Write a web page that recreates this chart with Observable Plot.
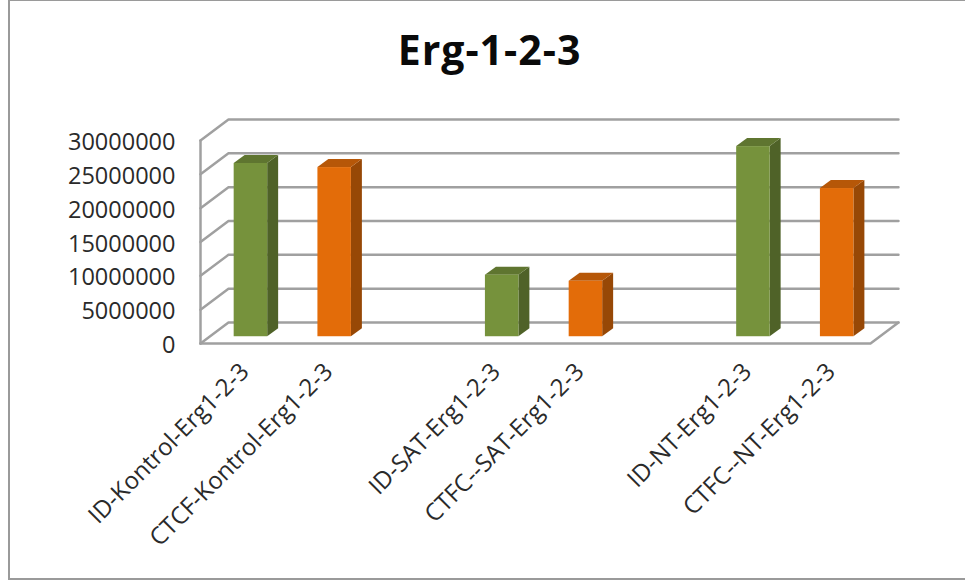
<!DOCTYPE html>
<html>
<head>
<meta charset="utf-8">
<script src="https://cdn.jsdelivr.net/npm/d3@7"></script>
<script src="https://cdn.jsdelivr.net/npm/@observablehq/plot@0.6"></script>
<style>
  html, body { margin: 0; background: #fff; }
  #frame { position: relative; width: 965px; height: 581px; overflow: hidden; }
  #box { position: absolute; left: 8px; top: -1px; width: 961px; height: 577px; border: 2px solid #9a9a9a; box-sizing: content-box; }
  #title { position: absolute; left: 0; width: 979px; top: 21px; text-align: center;
           font: bold 41px "Open Sans", sans-serif; letter-spacing: 1px; color: #0a0a0a; }
  #chart { position: absolute; left: 0; top: 0; }
  #chart svg { display: block; }
</style>
</head>
<body>
<div id="frame">
  <div id="box"></div>
  <div id="title">Erg-1-2-3</div>
  <div id="chart"></div>
</div>
<script>
// Chart values
const labels = ["ID-Kontrol-Erg1-2-3", "CTCF-Kontrol-Erg1-2-3", "ID-SAT-Erg1-2-3",
                "CTFC--SAT-Erg1-2-3", "ID-NT-Erg1-2-3", "CTFC--NT-Erg1-2-3"];
const values = [25600000, 25000000, 9100000, 8200000, 28100000, 21900000];
const slots = [0, 1, 3, 4, 6, 7];
const isControl = [true, false, true, false, true, false];
const ticks = [0, 5000000, 10000000, 15000000, 20000000, 25000000, 30000000];

// Oblique projection: depth in axis units (x in category slots, y in value)
const slotCount = 8;
const wallDx = 0.334, wallDy = 3100000;
const barWidth = 0.4;
const barDx = 0.131, barDy = 1180000;
const barShiftX = 0.102, barShiftY = 1000000;

const bars = values.map((v, i) => {
  const x0 = slots[i] + 0.5 - barWidth / 2 + barShiftX;
  return {label: labels[i], v, x0, x1: x0 + barWidth, base: barShiftY, top: barShiftY + v, control: isControl[i]};
});
const fill = {front: d => d.control ? "#76923c" : "#e36c09",
              side: d => d.control ? "#4f6228" : "#974806",
              top: d => d.control ? "#5f7530" : "#b65708"};

const sideFaces = bars.flatMap(d => [0, 1].map(t => ({...d, x: d.x1 + t * barDx,
  y1: d.base + t * barDy, y2: d.top + t * barDy})));
const topFaces = bars.flatMap(d => [0, 1].map(t => ({...d, y: d.top + t * barDy,
  x1: d.x0 + t * barDx, x2: d.x1 + t * barDx})));

// Gridlines run up the side wall, then along the back wall
const gridlines = ticks.flatMap(t => [
  {t, x: 0, y: t},
  {t, x: wallDx, y: t + wallDy},
  {t, x: slotCount + wallDx, y: t + wallDy}
]);
const floorEdge = [
  {x: 0, y: 0}, {x: slotCount, y: 0}, {x: slotCount + wallDx, y: wallDy}
];
const wallEdge = [{x: 0, y: 0}, {x: 0, y: 30000000}];

const textFont = "'Open Sans', sans-serif";
const gridGrey = "#a0a0a0";
const plot = Plot.plot({
  width: 965,
  height: 581,
  marginLeft: 200,
  marginRight: 95,
  marginTop: 140,
  marginBottom: 238,
  style: {background: "transparent"},
  x: {type: "linear", domain: [0, slotCount], axis: null},
  y: {domain: [0, 30000000], axis: null},
  marks: [
    Plot.line(gridlines, {x: "x", y: "y", z: "t", stroke: gridGrey, strokeWidth: 2.5, curve: "linear"}),
    Plot.line(wallEdge, {x: "x", y: "y", stroke: gridGrey, strokeWidth: 2.5}),
    Plot.line(floorEdge, {x: "x", y: "y", stroke: gridGrey, strokeWidth: 2.5}),
    Plot.areaY(sideFaces, {x: "x", y1: "y1", y2: "y2", z: "label", fill: fill.side, curve: "linear"}),
    Plot.areaX(topFaces, {y: "y", x1: "x1", x2: "x2", z: "label", fill: fill.top, curve: "linear"}),
    Plot.rect(bars, {x1: "x0", x2: "x1", y1: "base", y2: "top", fill: fill.front, inset: 0}),
    Plot.text(ticks, {
      x: 0, y: d => d, text: d => String(d), textAnchor: "end", dx: -25, dy: 2,
      fontSize: 23.5, fontFamily: textFont, fill: "#2a2a2a"
    }),
    Plot.text(bars, {
      x: d => d.x0 + barWidth / 2, y: 0, text: "label", rotate: -45, textAnchor: "end",
      dx: -6, dy: 24, fontSize: 24, fontFamily: textFont, fill: "#2a2a2a"
    })
  ]
});
document.getElementById("chart").append(plot);
</script>
</body>
</html>
